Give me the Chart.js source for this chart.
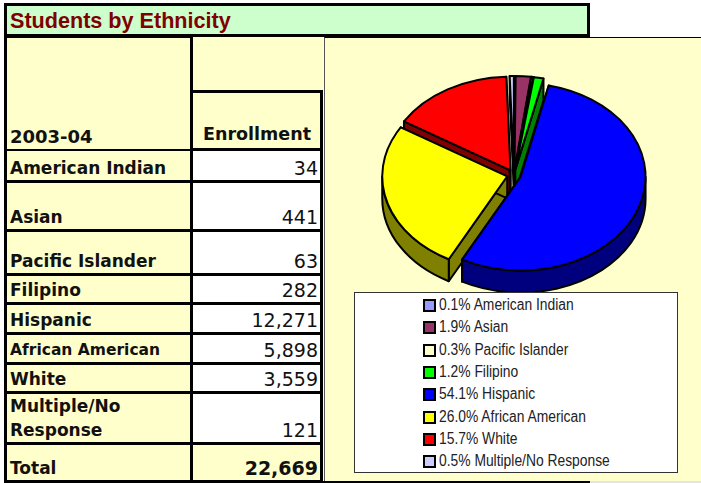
<!DOCTYPE html>
<html>
<head>
<meta charset="utf-8">
<title>Students by Ethnicity</title>
<script src="https://cdn.jsdelivr.net/npm/chart.js@4"></script>
<style>
  html, body { margin: 0; padding: 0; background: #fff; width: 701px; height: 483px; overflow: hidden; }
  #title {
    position: absolute; left: 4px; top: 3px; width: 577px; height: 28px;
    border: 3px solid #000; background: #ccffcc; color: #800000;
    font: bold 21.6px "Liberation Sans", Arial, sans-serif; line-height: 30px; padding-left: 3px;
  }
  #grid {
    position: absolute; left: 4px; top: 34px; background: #000; padding: 3px; display: grid; gap: 3px;
    grid-template-columns: 183px 127px;
    grid-template-rows: 53px 55px 29px 46px 41px 26px 27px 27px 26px 48px 35px;
    font-family: "DejaVu Sans", sans-serif; color: #111;
  }
  #grid div { background: #ffffcc; display: flex; align-items: flex-end; box-sizing: border-box; padding: 0 2px 0 3px; font-size: 17px; line-height: 24px; font-weight: bold; }
  #grid .num { background: #fff; justify-content: flex-end; font-weight: normal; font-size: 19px; padding-right: 2px; }
  #grid .total { background: #ffffcc; font-weight: bold; font-size: 19px; }
  #panel { position: absolute; left: 324px; top: 37px; width: 377px; height: 446px; background: #ffffcc; box-sizing: border-box; border-left: 1px solid #555; border-top: 1px solid #000; }
  #pie { position: absolute; left: 0; top: 0; }
  #bottomline { position: absolute; left: 323px; top: 481px; width: 267px; height: 2px; background: #000; }
  #bottomrest { position: absolute; left: 590px; top: 481px; width: 111px; height: 2px; background: #e4e4e4; }
  #legend {
    position: absolute; left: 29px; top: 254px; width: 322px; height: 179px; background: #fff; border: 1px solid #333;
    font: 16px "Liberation Sans", sans-serif; color: #222;
  }
  #legend .row { position: absolute; left: 68px; height: 22px; line-height: 22px; white-space: nowrap; }
  #legend i { position: absolute; left: 0; top: 5px; width: 9px; height: 9px; border: 2px solid #000; }
  #legend span { position: absolute; left: 16px; top: 0; transform: scaleX(0.865); transform-origin: left center; }
</style>
</head>
<body>
<div id="title">Students by Ethnicity</div>
<div id="grid"></div>
<div id="panel">
  <canvas id="pie" width="376" height="445"></canvas>
  <div id="legend"></div>
</div>
<div id="bottomline"></div>
<div id="bottomrest"></div>

<script>
const yearLabel = '2003-04';
const valueLabel = 'Enrollment';
const categories = ['American Indian', 'Asian', 'Pacific Islander', 'Filipino', 'Hispanic', 'African American', 'White', 'Multiple/No Response'];
const enrollment = [34, 441, 63, 282, 12271, 5898, 3559, 121];
const sliceColors = ['#9999ff', '#993366', '#ffffcc', '#00ff00', '#0000ff', '#ffff00', '#ff0000', '#ccccff'];
const totalEnrollment = 22669;

// --- Réglages de la fausse 3D ---
const SQUASH = 0.75;
const DEPTH = 22;
const EXPLODE = 7;

// --- Tableau de gauche ---
const grid = document.getElementById('grid');
function addCell(text, cls, style) {
    const cell = document.createElement('div');
    cell.textContent = text;
    if (cls) cell.className = cls;
    if (style) cell.style.cssText = style;
    grid.appendChild(cell);
}
addCell(yearLabel, '', 'grid-row: span 2; font-size: 18px; padding-bottom: 0; margin-bottom: 0; align-items: flex-end; transform: translateY(1px); background: #ffffcc;');
addCell('', '', 'margin-right: -3px;');
addCell(valueLabel, '', 'justify-content: center; font-size: 17.5px; padding-bottom: 2px;');
categories.forEach((name, i) => {
    addCell(name, '', name === 'African American' ? 'font-size: 15.5px;' : '');
    addCell(enrollment[i].toLocaleString('en-US'), 'num');
});
addCell('Total', '');
addCell(totalEnrollment.toLocaleString('en-US'), 'num total');

// --- Légende ---
const legend = document.getElementById('legend');
categories.forEach((name, i) => {
    const row = document.createElement('div');
    row.className = 'row';
    row.style.top = (1 + i * 22.3) + 'px';
    const pct = (enrollment[i] / totalEnrollment * 100).toFixed(1);
    row.innerHTML = `<i style="background:${sliceColors[i]}"></i><span>${pct}% ${name}</span>`;
    legend.appendChild(row);
});

function darker(hex) {
    const n = parseInt(hex.slice(1), 16);
    return `rgb(${(n >> 16) >> 1},${((n >> 8) & 255) >> 1},${(n & 255) >> 1})`;
}

// Dessine les parts en ellipse avec leur flanc, à partir des arcs calculés par Chart.js
const pie3d = {
    id: 'pie3d',
    beforeDatasetsDraw(chart) {
        const ctx = chart.ctx;
        const arcs = chart.getDatasetMeta(0).data.map((arc, i) => {
            const mid = (arc.startAngle + arc.endAngle) / 2;
            return {
                arc, color: sliceColors[i], mid,
                cx: arc.x + Math.cos(mid) * EXPLODE,
                cy: arc.y + Math.sin(mid) * EXPLODE * SQUASH
            };
        });
        // de l'arrière vers l'avant
        arcs.sort((a, b) => Math.sin(a.mid) - Math.sin(b.mid));

        ctx.save();
        ctx.lineWidth = 2;
        ctx.lineJoin = 'round';
        ctx.strokeStyle = '#000';
        arcs.forEach(({ arc, color, cx, cy }) => {
            const r = arc.outerRadius;
            const rx = a => cx + r * Math.cos(a);
            const ry = a => cy + r * SQUASH * Math.sin(a);
            ctx.fillStyle = darker(color);

            // côtés radiaux
            [arc.startAngle, arc.endAngle].forEach(a => {
                ctx.beginPath();
                ctx.moveTo(cx, cy);
                ctx.lineTo(rx(a), ry(a));
                ctx.lineTo(rx(a), ry(a) + DEPTH);
                ctx.lineTo(cx, cy + DEPTH);
                ctx.closePath();
                ctx.fill();
                ctx.stroke();
            });

            // flanc extérieur, seulement la moitié basse
            const a0 = Math.max(arc.startAngle, 0);
            const a1 = Math.min(arc.endAngle, Math.PI);
            if (a1 > a0) {
                ctx.beginPath();
                ctx.ellipse(cx, cy, r, r * SQUASH, 0, a0, a1);
                ctx.ellipse(cx, cy + DEPTH, r, r * SQUASH, 0, a1, a0, true);
                ctx.closePath();
                ctx.fill();
                ctx.stroke();
            }

            // dessus : l'arc lui-même, écrasé
            ctx.save();
            ctx.translate(cx, cy);
            ctx.scale(1, SQUASH);
            ctx.translate(-arc.x, -arc.y);
            arc.draw(ctx);
            ctx.restore();

            ctx.beginPath();
            ctx.moveTo(cx, cy);
            ctx.ellipse(cx, cy, r, r * SQUASH, 0, arc.startAngle, arc.endAngle);
            ctx.closePath();
            ctx.stroke();
        });
        ctx.restore();
        return false;
    }
};

new Chart(document.getElementById('pie'), {
    type: 'pie',
    data: {
        labels: categories,
        datasets: [{
            data: enrollment,
            backgroundColor: sliceColors,
            borderWidth: 0,
            radius: 125
        }]
    },
    options: {
        responsive: false,
        animation: false,
        events: [],
        layout: { padding: { top: 0, left: 2, right: 0, bottom: 171 } },
        plugins: { legend: { display: false }, tooltip: { enabled: false } }
    },
    plugins: [pie3d]
});
</script>
</body>
</html>
